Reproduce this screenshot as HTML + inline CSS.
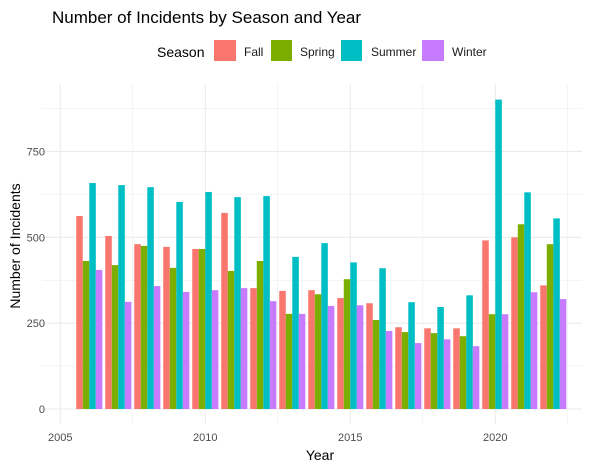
<!DOCTYPE html>
<html><head><meta charset="utf-8"><style>
body{margin:0;background:#fff;font-family:"Liberation Sans",sans-serif;}
</style></head><body>
<svg id="chart" width="598" height="470" xmlns="http://www.w3.org/2000/svg" font-family="Liberation Sans, sans-serif">
<text x="52" y="23" font-size="17" fill="#000">Number of Incidents by Season and Year</text>
<g>
<text x="157" y="57" font-size="14" fill="#000">Season</text>
<rect x="214" y="40" width="22" height="21" fill="#F8766D"/>
<text x="244" y="56" font-size="12" fill="#1a1a1a">Fall</text>
<rect x="271" y="40" width="21" height="21" fill="#7CAE00"/>
<text x="300" y="56" font-size="12" fill="#1a1a1a">Spring</text>
<rect x="341" y="40" width="21" height="21" fill="#00BFC4"/>
<text x="371" y="56" font-size="12" fill="#1a1a1a">Summer</text>
<rect x="422" y="40" width="22" height="21" fill="#C77CFF"/>
<text x="452" y="56" font-size="12" fill="#1a1a1a">Winter</text>
</g>
<g id="grid"></g><g id="bars"></g><g id="axes"></g>
<text x="320" y="460" font-size="14" text-anchor="middle" fill="#000">Year</text>
<text transform="translate(20,246) rotate(-90)" font-size="14" text-anchor="middle" fill="#000">Number of Incidents</text>
</svg>
<script>
const years=[2006,2007,2008,2009,2010,2011,2012,2013,2014,2015,2016,2017,2018,2019,2020,2021,2022];
const seasons=["Fall","Spring","Summer","Winter"];
const fall=[562,504,480,472,466,571,352,344,346,323,308,238,235,235,491,500,360];
const spring=[431,419,475,411,466,402,431,277,334,378,259,224,221,212,276,538,480];
const summer=[658,652,646,603,632,617,620,443,483,427,410,311,297,331,901,631,555];
const winter=[405,312,358,341,346,352,314,277,300,302,227,192,203,183,276,340,320];
const yTicks=[0,250,500,750];
const xTicks=[2005,2010,2015,2020];
const colors=["#F8766D","#7CAE00","#00BFC4","#C77CFF"];
const series=[fall,spring,summer,winter];
const NS="http://www.w3.org/2000/svg";
const X=v=>60.3+(v-2005)*29;
const Y=v=>409-v*0.3434;
const L=42,R=582,T=84,B=424;
function mk(tag,attrs,parent){const e=document.createElementNS(NS,tag);for(const k in attrs)e.setAttribute(k,attrs[k]);parent.appendChild(e);return e;}
const grid=document.getElementById('grid'),bars=document.getElementById('bars'),axes=document.getElementById('axes');
for(let v=-125;v<=1000;v+=125){const y=Y(v);if(y<T||y>B)continue;const major=v%250===0;
const g=mk('line',{x1:L,x2:R,y1:y,y2:y,stroke:'#ebebeb','stroke-width':major?1.1:0.55},grid);

}
for(let v=2002.5;v<=2025;v+=2.5){const x=X(v);if(x<L||x>R)continue;const major=v%5===0;
const g=mk('line',{x1:x,x2:x,y1:T,y2:B,stroke:'#ebebeb','stroke-width':major?1.1:0.55},grid);

}
const bw=0.9*29/4;
years.forEach((yr,i)=>{series.forEach((s,j)=>{const x0=X(yr)-0.45*29+j*bw;
const r=mk('rect',{x:x0,y:Y(s[i]),width:bw,height:Y(0)-Y(s[i]),fill:colors[j]},bars);

});});
yTicks.forEach(v=>{const t=mk('text',{x:45,y:Y(v)+4,'font-size':11,'text-anchor':'end',fill:'#4d4d4d'},axes);t.textContent=v;

});
xTicks.forEach(v=>{const t=mk('text',{x:X(v),y:441,'font-size':11,'text-anchor':'middle',fill:'#4d4d4d'},axes);t.textContent=v;

});
</script>
</body></html>
